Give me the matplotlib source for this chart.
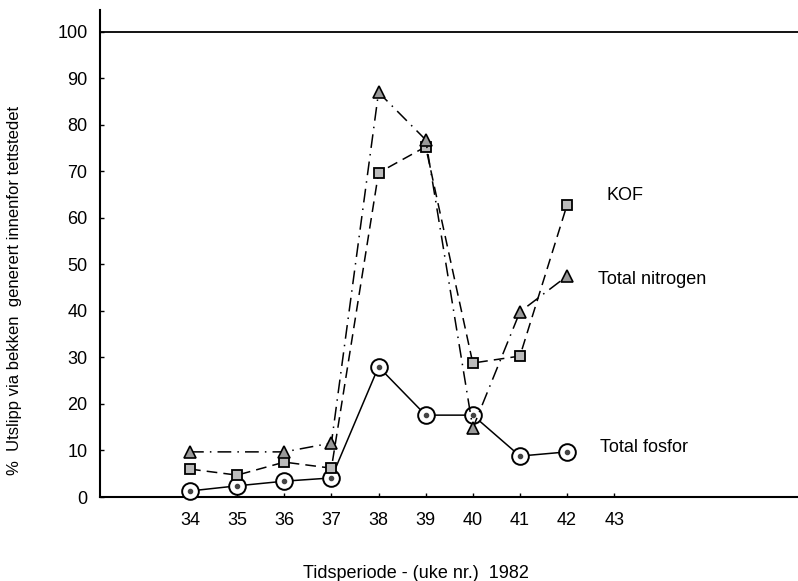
import matplotlib
matplotlib.use('Agg')
import matplotlib.pyplot as plt
import numpy as np

# data
weeks = [34, 35, 36, 37, 38, 39, 40, 41, 42]
fosfor = [1.3, 2.4, 3.4, 4.1, 28.0, 17.6, 17.6, 8.8, 9.7]
kof = [6.0, 4.7, 7.5, 6.2, 69.7, 75.3, 28.8, 30.3, 62.8]
nitrogen_weeks = [34, 36, 37, 38, 39, 40, 41, 42]
nitrogen = [9.7, 9.7, 11.6, 87.0, 76.8, 14.8, 39.8, 47.5]

x_ticks = [34, 35, 36, 37, 38, 39, 40, 41, 42, 43]
y_ticks = [0, 10, 20, 30, 40, 50, 60, 70, 80, 90, 100]

plt.rcParams['font.family'] = ['Liberation Sans', 'DejaVu Sans']

W, H = 798, 581
fig = plt.figure(figsize=(W / 100, H / 100), dpi=100)
ax = fig.add_axes([100 / W, 1 - 497 / H, 698 / W, 487 / H])

ax.plot(weeks, fosfor, color='black', linewidth=1.1, marker='o', markersize=12,
        markerfacecolor='white', markeredgecolor='black', markeredgewidth=1.4, clip_on=False, zorder=3)
ax.plot(weeks, fosfor, linestyle='none', marker='o', markersize=3, color='#444444',
        clip_on=False, zorder=4)

ax.plot(weeks, kof, color='black', linewidth=1.1, linestyle=(0, (7, 4)), marker='s',
        markersize=7.5, markerfacecolor='#bbbbbb', markeredgecolor='black', markeredgewidth=1.3,
        clip_on=False, zorder=3)

ax.plot(nitrogen_weeks, nitrogen, color='black', linewidth=1.1, linestyle=(0, (9, 4, 1, 4)),
        marker='^', markersize=9, markerfacecolor='#999999', markeredgecolor='black',
        markeredgewidth=1.2, clip_on=False, zorder=3)

# line at 100 %
ax.axhline(100, color='black', linewidth=1.3)

# series names, placed in pixel positions of the figure
fig.text(607 / W, 1 - 196 / H, 'KOF', fontsize=13, va='center', ha='left')
fig.text(598 / W, 1 - 280 / H, 'Total nitrogen', fontsize=13, va='center', ha='left')
fig.text(600 / W, 1 - 448 / H, 'Total fosfor', fontsize=13, va='center', ha='left')

ax.set_xlim(32.09, 46.9)
ax.set_ylim(0, 104.7)
ax.set_xticks(x_ticks)
ax.set_yticks(y_ticks)
ax.tick_params(axis='both', direction='in', length=3, width=1, labelsize=13)
ax.tick_params(axis='x', pad=11)
ax.tick_params(axis='y', pad=9)

for s in ['top', 'right']:
    ax.spines[s].set_visible(False)
for s in ['left', 'bottom']:
    ax.spines[s].set_linewidth(1.5)

fig.text(416 / W, 1 - 574 / H, 'Tidsperiode - (uke nr.)  1982', fontsize=13,
         ha='center', va='center')
fig.text(15 / W, 1 - 290 / H, '%  Utslipp via bekken  generert innenfor tettstedet',
         fontsize=12, rotation=90, ha='center', va='center')

fig.savefig('out.png', dpi=100)
